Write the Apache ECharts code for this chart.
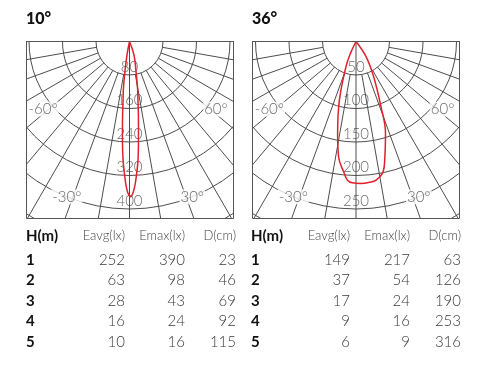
<!DOCTYPE html>
<html><head><meta charset="utf-8">
<script src="https://cdn.jsdelivr.net/npm/echarts@6/dist/echarts.min.js"></script>
<style>
html,body{margin:0;padding:0;background:#fff;}
#main{position:absolute;left:0;top:0;width:486px;height:372px;}
.polar{position:absolute;top:41px;width:208px;height:178px;}
</style></head><body>
<div id="main"></div>
<div id="p1" class="polar" style="left:26px"></div>
<div id="p2" class="polar" style="left:252px"></div>
<script>
// ---- data ----
const titles = ['10°', '36°'];
const rings10 = [80, 160, 240, 320, 400];
const rings36 = [50, 100, 150, 200, 250];
const angleLabelText = ['-60°', '60°', '-30°', '30°'];
const angleLabelAngle = [-52, 52, -22, 22];
const angleLabelRadius10 = [262, 262, 400, 400];
const angleLabelRadius36 = [164, 164, 250, 250];

// luminous curves: angle (deg from nadir) and value
const curve10Angle = [-20, -10.5, -8.7, -7.4, -6.2, -5.1, -4.1, -3.1, -2.1, -1.4, -0.6, 0.4, 1.3, 2.2, 3.0, 4.1, 5.2, 6.5, 8.1, 9.8, 12.4, 18.4, 25];
const curve10Value = [0, 33, 71, 112, 143, 188, 236, 283, 319, 343, 362, 371, 362, 343, 319, 284, 236, 189, 144, 113, 72, 34, 0];
const curve36Angle = [-35, -25, -21.8, -15.8, -11.3, -8.6, -5.0, -3.6, -1.5, 2.0, 5.5, 8.2, 11.7, 14.0, 17.8, 21.0, 26.8, 33.7, 40];
const curve36Value = [0, 20, 40, 91, 140, 174, 198, 207, 211, 212, 211, 209, 199, 178, 144, 104, 58, 27, 0];

const headers = ['H(m)', 'Eavg(lx)', 'Emax(lx)', 'D(cm)'];
const heights = ['1', '2', '3', '4', '5'];
const eavg10 = [252, 63, 28, 16, 10];
const emax10 = [390, 98, 43, 24, 16];
const dcm10 = [23, 46, 69, 92, 115];
const eavg36 = [149, 37, 17, 9, 6];
const emax36 = [217, 54, 24, 16, 9];
const dcm36 = [63, 126, 190, 253, 316];

// ---- layout ----
const FONT = 'Lato, "Noto Sans", sans-serif';
const GRID = '#4d4d4d';
const RED = '#e0202a';

function polarOption(rings, curveA, curveV, labR, centerX) {
  const step = rings[0];
  const curve = curveA.map((a, i) => [curveV[i], a]);
  const ringData = rings.map(r => [r, 0]);
  const angData = angleLabelAngle.map((a, i) => ({ value: [labR[i], a], name: angleLabelText[i] }));
  const hidden = { axisLine: { show: false }, axisTick: { show: false }, axisLabel: { show: false }, splitLine: { show: false } };
  return {
    animation: false,
    backgroundColor: '#fff',
    polar: [
      { center: [centerX, 0.5], radius: [33.5, 234.5] },
      { center: [centerX, 0.5], radius: [0, 234.5] }
    ],
    angleAxis: [{
      polarIndex: 0,
      type: 'value', min: -90, max: 90, interval: 10,
      startAngle: 180, endAngle: 360, clockwise: false,
      axisLine: { show: false }, axisTick: { show: false }, axisLabel: { show: false },
      splitLine: { show: true, lineStyle: { color: GRID, width: 1 } }
    }, Object.assign({
      polarIndex: 1,
      type: 'value', min: -90, max: 90, interval: 10,
      startAngle: 180, endAngle: 360, clockwise: false
    }, hidden)],
    radiusAxis: [{
      polarIndex: 0,
      type: 'value', min: step, max: step * 7, interval: step,
      axisLine: { show: false }, axisTick: { show: false }, axisLabel: { show: false },
      splitLine: { show: true, lineStyle: { color: GRID, width: 1 } }
    }, Object.assign({
      polarIndex: 1,
      type: 'value', min: 0, max: step * 7, interval: step
    }, hidden)],
    graphic: [{
      type: 'rect', z: 100, shape: { x: 0.5, y: 0.5, width: 207, height: 177 },
      style: { fill: 'none', stroke: '#555', lineWidth: 1 }
    }],
    series: [
      {
        type: 'line', coordinateSystem: 'polar', polarIndex: 1, data: [[0, 0], [step, 0]],
        showSymbol: false, clip: false, silent: true,
        lineStyle: { color: GRID, width: 1 }, z: 1
      },
      {
        type: 'scatter', coordinateSystem: 'polar', polarIndex: 0, data: ringData, symbolSize: 1,
        itemStyle: { color: 'rgba(0,0,0,0)' }, silent: true, z: 3,
        label: { show: true, position: 'top', distance: 0, color: '#444', fontSize: 15, fontFamily: FONT, fontWeight: 300,
          formatter: p => String(p.value[0]) }
      },
      {
        type: 'scatter', coordinateSystem: 'polar', polarIndex: 0, data: angData, symbolSize: 1,
        itemStyle: { color: 'rgba(0,0,0,0)' }, silent: true, z: 3,
        label: { show: true, position: 'inside', color: '#444', fontSize: 15, fontFamily: FONT, fontWeight: 300,
          backgroundColor: '#fff', padding: [0, 1], formatter: p => p.name }
      },
      {
        type: 'line', coordinateSystem: 'polar', polarIndex: 1, data: curve, smooth: 0.4,
        showSymbol: false, clip: false, silent: true,
        lineStyle: { color: RED, width: 1.5 }, z: 10
      }
    ]
  };
}

function txt(x, y, s, font, fill, align) {
  return { type: 'text', x: x, y: y, style: { text: s, font: font, fill: fill,
    align: align, textAlign: align, verticalAlign: 'middle', textVerticalAlign: 'middle' } };
}

const BOLD_T = '900 16px ' + FONT;
const BOLD_H = 'bold 15px ' + FONT;
const HEAD = '300 13px ' + FONT;
const NUM = '300 15px ' + FONT;
const rowY0 = 236, rowY = [260, 280.5, 301, 321.5, 342];

function tableGraphics(x0, cols, e1, e2, e3) {
  const g = [];
  g.push(txt(x0, rowY0, headers[0], BOLD_H, '#111', 'left'));
  for (let c = 1; c < 4; c++) g.push(txt(cols[c - 1], rowY0, headers[c], HEAD, '#444', 'right'));
  heights.forEach((h, i) => {
    g.push(txt(x0, rowY[i], h, BOLD_H, '#111', 'left'));
    g.push(txt(cols[0], rowY[i], String(e1[i]), NUM, '#3a3a3a', 'right'));
    g.push(txt(cols[1], rowY[i], String(e2[i]), NUM, '#3a3a3a', 'right'));
    g.push(txt(cols[2], rowY[i], String(e3[i]), NUM, '#3a3a3a', 'right'));
  });
  return g;
}

const mainGraphics = [
  txt(26, 19, titles[0], BOLD_T, '#111', 'left'),
  txt(252, 19, titles[1], BOLD_T, '#111', 'left')
].concat(tableGraphics(26, [125, 185, 236], eavg10, emax10, dcm10))
 .concat(tableGraphics(251, [350, 410, 461], eavg36, emax36, dcm36));

const main = echarts.init(document.getElementById('main'));
main.setOption({ animation: false, backgroundColor: '#fff', graphic: mainGraphics });

const c1 = echarts.init(document.getElementById('p1'));
c1.setOption(polarOption(rings10, curve10Angle, curve10Value, angleLabelRadius10, 103.5));
const c2 = echarts.init(document.getElementById('p2'));
c2.setOption(polarOption(rings36, curve36Angle, curve36Value, angleLabelRadius36, 104));
</script>
</body></html>
